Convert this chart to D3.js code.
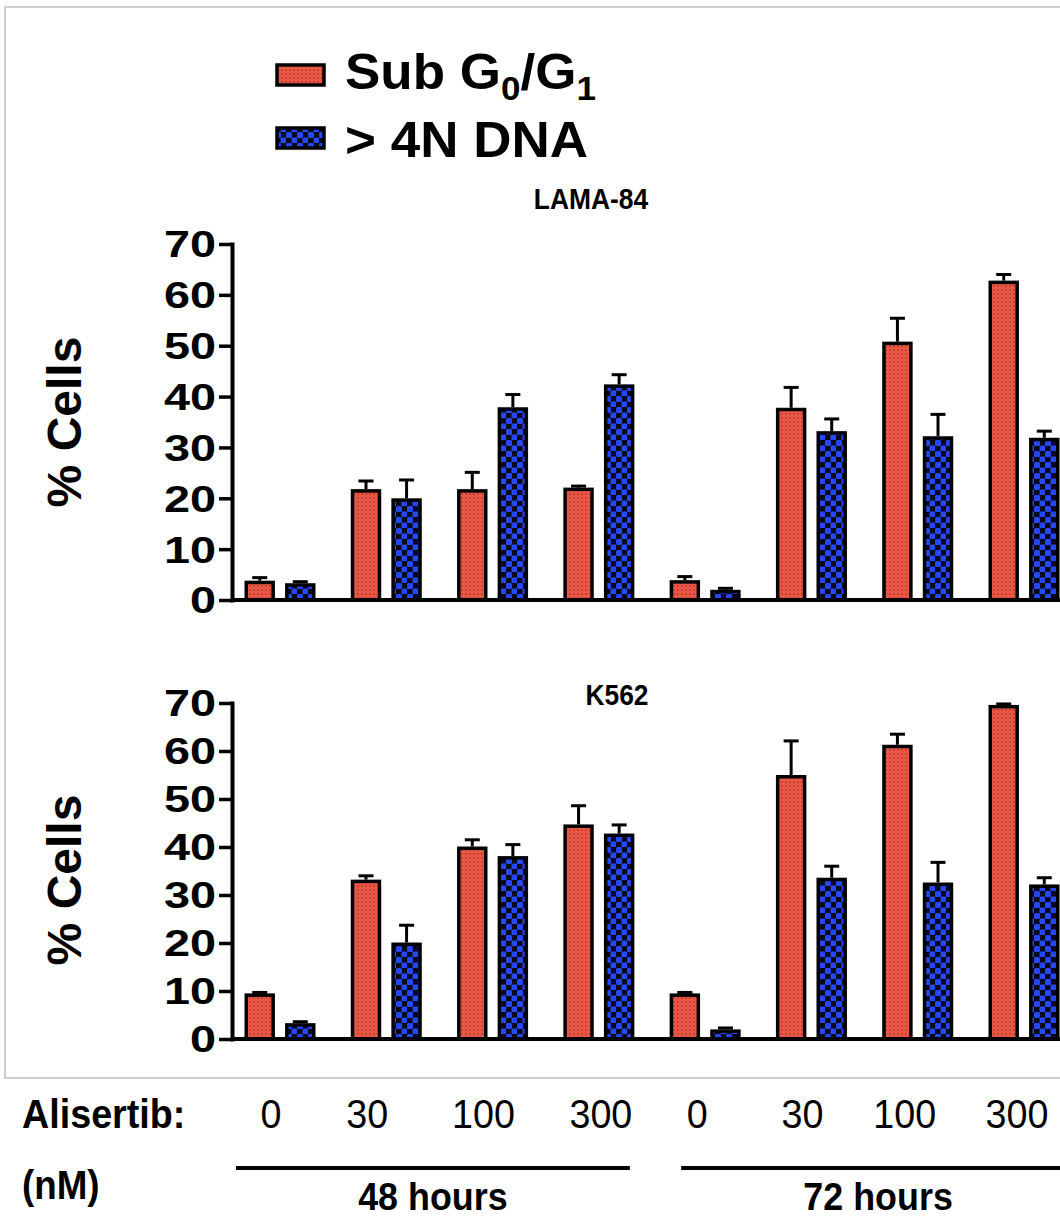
<!DOCTYPE html>
<html>
<head>
<meta charset="utf-8">
<script src="https://cdn.jsdelivr.net/npm/d3@7"></script>
<style>
  body { margin: 0; background: #fff; }
  svg { display: block; }
  text { font-family: "Liberation Sans", Arial, Helvetica, sans-serif; fill: #000; }
</style>
</head>
<body>
<div id="chart"></div>
<script>
// values (% cells)
let doses = ["0", "30", "100", "300", "0", "30", "100", "300"];
let times = ["48 hours", "72 hours"];
let timeGroups = [[0, 3], [4, 7]];
let yTicks = [0, 10, 20, 30, 40, 50, 60, 70];
let seriesKeys = ["sub", "dna"];

let lamaSub = [3.8, 21.8, 21.8, 22.1, 3.9, 37.8, 50.8, 62.8];
let lamaSubErr = [0.6, 1.6, 3.3, 0.3, 0.7, 4.0, 4.6, 1.2];
let lamaDna = [3.3, 20.0, 37.9, 42.4, 2.0, 33.2, 32.2, 31.9];
let lamaDnaErr = [0.3, 3.6, 2.5, 1.9, 0.3, 2.4, 4.3, 1.3];

let k562Sub = [9.5, 33.2, 40.1, 44.7, 9.5, 55.0, 61.3, 69.6];
let k562SubErr = [0.2, 0.8, 1.4, 3.9, 0.2, 7.1, 2.2, 0.2];
let k562Dna = [3.3, 20.1, 38.1, 42.8, 2.0, 33.6, 32.6, 32.2];
let k562DnaErr = [0.3, 3.6, 2.4, 1.8, 0.3, 2.4, 4.2, 1.4];

let width = 1060,
    height = 1219;

let svg = d3.select("#chart")
    .append("svg")
    .attr("width", width)
    .attr("height", height);

// fill textures
let defs = svg.append("defs");
let pRed = defs.append("pattern")
    .attr("id", "pRed")
    .attr("patternUnits", "userSpaceOnUse")
    .attr("width", 4)
    .attr("height", 4);
pRed.append("rect").attr("width", 4).attr("height", 4).attr("fill", "#ea5845");
pRed.append("circle").attr("cx", 2).attr("cy", 2).attr("r", 0.9).attr("fill", "#b5392c");

let pBlue = defs.append("pattern")
    .attr("id", "pBlue")
    .attr("patternUnits", "userSpaceOnUse")
    .attr("width", 11)
    .attr("height", 11);
pBlue.append("rect").attr("width", 11).attr("height", 11).attr("fill", "#0a0a1a");
pBlue.append("rect").attr("x", 0).attr("y", 0).attr("width", 6).attr("height", 6).attr("rx", 1.5).attr("fill", "#2548ff");
pBlue.append("rect").attr("x", 5.5).attr("y", 5.5).attr("width", 6).attr("height", 6).attr("rx", 1.5).attr("fill", "#2548ff");

let fills = { sub: "url(#pRed)", dna: "url(#pBlue)" };

// light frame around the plot area
svg.append("rect")
    .attr("x", 5)
    .attr("y", 7)
    .attr("width", 1100)
    .attr("height", 1071)
    .attr("fill", "none")
    .attr("stroke", "#cfcfcf")
    .attr("stroke-width", 2);

let axisX = 232;
let x = d3.scalePoint()
    .domain(d3.range(doses.length))
    .range([280, 1024]);

let xs = d3.scaleBand()
    .domain(seriesKeys)
    .range([-35.5, 35.5])
    .paddingInner(0.25);

let barStroke = 3.5;

let panels = [
    { title: "LAMA-84", sub: lamaSub, subErr: lamaSubErr, dna: lamaDna, dnaErr: lamaDnaErr,
      top: 244, bottom: 600, titleX: 591, titleY: 209, labelY: 422 },
    { title: "K562", sub: k562Sub, subErr: k562SubErr, dna: k562Dna, dnaErr: k562DnaErr,
      top: 703, bottom: 1039, titleX: 617, titleY: 705, labelY: 880 }
];

panels.forEach(function (p) {
    let y = d3.scaleLinear()
        .domain([0, 70])
        .range([p.bottom, p.top]);

    let g = svg.append("g");

    let rows = [];
    doses.forEach(function (d, i) {
        rows.push({ i: i, key: "sub", v: p.sub[i], e: p.subErr[i] });
        rows.push({ i: i, key: "dna", v: p.dna[i], e: p.dnaErr[i] });
    });

    // error bars (upper only)
    let eb = g.selectAll(".err")
        .data(rows)
        .enter()
        .append("g")
        .attr("class", "err")
        .attr("stroke", "#000")
        .attr("stroke-width", 3);
    eb.append("line")
        .attr("x1", d => x(d.i) + xs(d.key) + xs.bandwidth() / 2)
        .attr("x2", d => x(d.i) + xs(d.key) + xs.bandwidth() / 2)
        .attr("y1", d => y(d.v))
        .attr("y2", d => y(d.v + d.e));
    eb.append("line")
        .attr("x1", d => x(d.i) + xs(d.key) + xs.bandwidth() / 2 - 7.5)
        .attr("x2", d => x(d.i) + xs(d.key) + xs.bandwidth() / 2 + 7.5)
        .attr("y1", d => y(d.v + d.e))
        .attr("y2", d => y(d.v + d.e));

    g.selectAll(".bar")
        .data(rows)
        .enter()
        .append("rect")
        .attr("class", "bar")
        .attr("x", d => x(d.i) + xs(d.key) + barStroke / 2)
        .attr("width", xs.bandwidth() - barStroke)
        .attr("y", d => y(d.v) + barStroke / 2)
        .attr("height", d => y(0) - y(d.v) - barStroke / 2)
        .attr("fill", d => fills[d.key])
        .attr("stroke", "#000")
        .attr("stroke-width", barStroke);

    // axes
    let yAxis = g.append("g")
        .attr("transform", "translate(" + axisX + ",0)")
        .call(d3.axisLeft(y).tickValues(yTicks).tickSize(13).tickSizeOuter(0).tickPadding(0));
    yAxis.select(".domain").attr("stroke-width", 4).attr("stroke-linecap", "square");
    yAxis.selectAll(".tick line").attr("stroke-width", 3.5);
    yAxis.selectAll(".tick text")
        .attr("font-size", 36)
        .attr("font-weight", "bold")
        .attr("font-family", "'Liberation Sans', Arial, sans-serif")
        .attr("x", -16 / 1.3)
        .attr("dy", "0.36em")
        .attr("transform", "scale(1.3,1)");

    g.append("line")
        .attr("x1", axisX)
        .attr("x2", width + 5)
        .attr("y1", y(0))
        .attr("y2", y(0))
        .attr("stroke", "#000")
        .attr("stroke-width", 4);

    g.append("text")
        .attr("transform", "translate(81," + p.labelY + ") rotate(-90)")
        .attr("text-anchor", "middle")
        .attr("font-size", 48)
        .attr("font-weight", "bold")
        .text("% Cells");

    g.append("text")
        .attr("transform", "translate(" + p.titleX + "," + p.titleY + ") scale(0.88,1)")
        .attr("text-anchor", "middle")
        .attr("font-size", 30)
        .attr("font-weight", "bold")
        .text(p.title);
});

// legend
let legend = svg.append("g");
let legendRows = [
    { key: "sub", y: 65 },
    { key: "dna", y: 128 }
];
legend.selectAll("rect")
    .data(legendRows)
    .enter()
    .append("rect")
    .attr("x", 277)
    .attr("y", d => d.y)
    .attr("width", 47)
    .attr("height", 20)
    .attr("fill", d => fills[d.key])
    .attr("stroke", "#000")
    .attr("stroke-width", 3.5);

let t1 = legend.append("text")
    .attr("transform", "translate(345,89) scale(1.06,1)")
    .attr("font-size", 50)
    .attr("font-weight", "bold");
t1.append("tspan").text("Sub G");
t1.append("tspan").attr("font-size", 33).attr("dy", 11).text("0");
t1.append("tspan").attr("dy", -11).text("/G");
t1.append("tspan").attr("font-size", 33).attr("dy", 11).text("1");

legend.append("text")
    .attr("transform", "translate(345,157) scale(1.06,1)")
    .attr("font-size", 50)
    .attr("font-weight", "bold")
    .text("> 4N DNA");

// dose labels under the chart
let bottomScale = "scale(0.92,1)";
svg.append("text")
    .attr("transform", "translate(22,1128) " + bottomScale)
    .attr("font-size", 41)
    .attr("font-weight", "bold")
    .text("Alisertib:");

svg.append("text")
    .attr("transform", "translate(22,1199) " + bottomScale)
    .attr("font-size", 40)
    .attr("font-weight", "bold")
    .text("(nM)");

let doseNudge = [-9, -19, -9, 2, -8, -9, -13, -7];
svg.selectAll(".dose")
    .data(doses)
    .enter()
    .append("text")
    .attr("class", "dose")
    .attr("transform", (d, i) => "translate(" + (x(i) + doseNudge[i]) + ",1128) " + bottomScale)
    .attr("text-anchor", "middle")
    .attr("font-size", 41)
    .text(d => d);

let timeShift = [-10, 10];
times.forEach(function (t, k) {
    let x0 = x(timeGroups[k][0]) - 34 + timeShift[k];
    let x1 = x(timeGroups[k][1]) + 41 + timeShift[k];
    svg.append("line")
        .attr("x1", x0)
        .attr("x2", x1)
        .attr("y1", 1168)
        .attr("y2", 1168)
        .attr("stroke", "#000")
        .attr("stroke-width", 4);
    svg.append("text")
        .attr("transform", "translate(" + ((x0 + x1) / 2) + ",1210) " + bottomScale)
        .attr("text-anchor", "middle")
        .attr("font-size", 39)
        .attr("font-weight", "bold")
        .text(t);
});
</script>
</body>
</html>
